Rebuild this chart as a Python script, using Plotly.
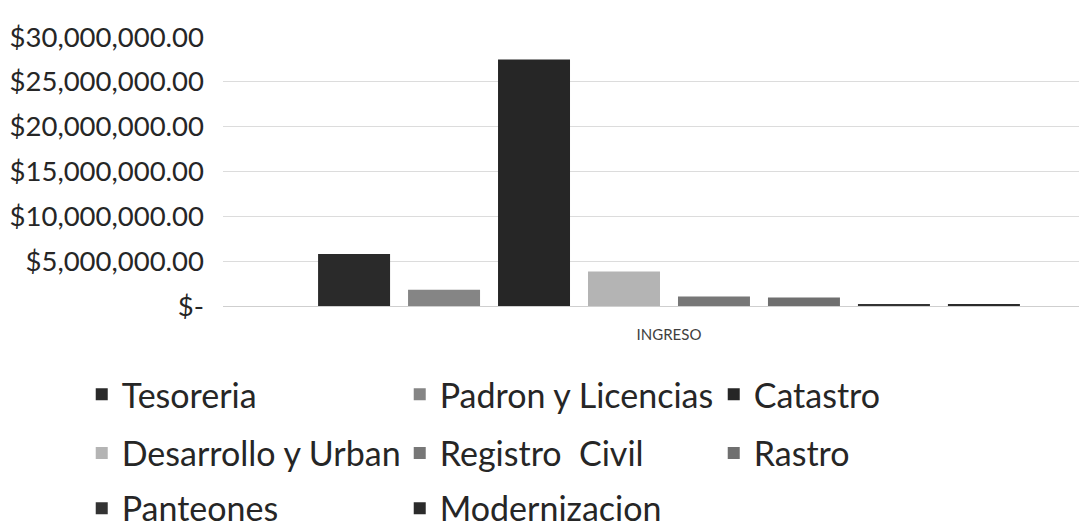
import plotly.graph_objects as go

category = ["INGRESO"]
series_names = ["Tesoreria", "Padron y Licencias", "Catastro", "Desarrollo y Urban",
                "Registro  Civil", "Rastro", "Panteones", "Modernizacion"]
series_values = [5800000, 1800000, 27500000, 3850000, 1050000, 950000, 150000, 150000]
series_colors = ["#2a2a2a", "#858585", "#262626", "#b4b4b4", "#777777", "#6f6f6f", "#333333", "#2b2b2b"]
legend_rows = ["legend", "legend", "legend", "legend2", "legend2", "legend2", "legend3", "legend3"]
legend_widths = [273, 269, 269, 273, 269, 269, 273, 269]

tick_values = [0, 5000000, 10000000, 15000000, 20000000, 25000000, 30000000]
tick_labels = ["$-", "$5,000,000.00", "$10,000,000.00", "$15,000,000.00",
               "$20,000,000.00", "$25,000,000.00", "$30,000,000.00"]

fig = go.Figure()
for name, val, col, lg, lw in zip(series_names, series_values, series_colors, legend_rows, legend_widths):
    fig.add_trace(go.Bar(
        x=category, y=[val], name=name, marker_color=col, marker_line_width=0,
        legend=lg, legendwidth=lw, hoverinfo="name+y",
    ))

legend_font = dict(family="Lato, Open Sans, sans-serif", size=34, color="#262626")
common_legend = dict(orientation="h", xanchor="left", yanchor="middle", x=-0.162,
                     font=legend_font, bgcolor="rgba(0,0,0,0)", itemclick=False,
                     itemdoubleclick=False, traceorder="normal")

fig.update_layout(
    width=1087, height=530,
    margin=dict(l=215, r=0, t=29, b=223),
    paper_bgcolor="white", plot_bgcolor="white",
    barmode="group", bargap=0.193, bargroupgap=0.2,
    showlegend=True,
    legend=dict(common_legend, y=-0.33),
    legend2=dict(common_legend, y=-0.548),
    legend3=dict(common_legend, y=-0.753),
    xaxis=dict(
        type="category", range=[-0.5, 0.4776],
        showgrid=False, showline=False, ticks="",
        tickfont=dict(family="Lato, Open Sans, sans-serif", size=15, color="#404040"),
        ticklabelstandoff=18, automargin=False,
    ),
    yaxis=dict(
        range=[0, 30000000], tickvals=tick_values, ticktext=tick_labels,
        showgrid=True, gridcolor="#dcdcdc", gridwidth=1,
        zeroline=True, zerolinecolor="#cfcfcf", zerolinewidth=1,
        showline=False, ticks="", automargin=False,
        tickfont=dict(family="Lato, Open Sans, sans-serif", size=27.5, color="#262626"),
        ticklabelstandoff=18,
    ),
)

fig.write_html("out.html")
